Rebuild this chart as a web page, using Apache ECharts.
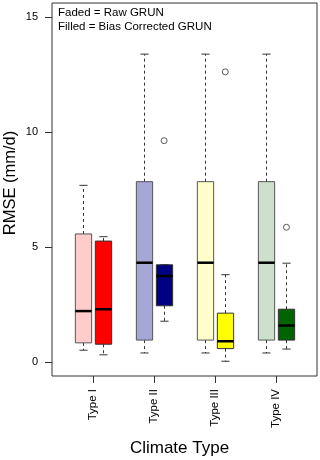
<!DOCTYPE html>
<html>
<head>
<meta charset="utf-8">
<script src="https://cdn.jsdelivr.net/npm/echarts@6/dist/echarts.min.js"></script>
<style>
  html, body { margin: 0; padding: 0; background: #fff; }
  #chart { width: 320px; height: 460px; }
</style>
</head>
<body>
<div id="chart"></div>
<script>
// climate types and their box positions on the x scale
const categories = ["Type I", "Type II", "Type III", "Type IV"];
const rawPos = [1, 4, 7, 10];
const corrPos = [2, 5, 8, 11];
const labelPos = [1.5, 4.5, 7.5, 10.5];

// [lower whisker, Q1, median, Q3, upper whisker]
const rawStats = [
  [0.52, 0.84, 2.22, 5.57, 7.68],
  [0.40, 0.96, 4.32, 7.84, 13.38],
  [0.40, 0.96, 4.32, 7.84, 13.38],
  [0.40, 0.96, 4.32, 7.84, 13.38],
];
const corrStats = [
  [0.32, 0.78, 2.30, 5.26, 5.45],
  [1.78, 2.45, 3.74, 4.23, 4.23],
  [0.04, 0.59, 0.91, 2.13, 3.80],
  [0.57, 0.96, 1.59, 2.30, 4.30],
];
// outliers of the bias corrected boxes: [category index, value]
const corrOutliers = [
  [1, 9.62],
  [2, 12.61],
  [3, 5.86],
];
const yTicks = [0, 5, 10, 15];

const rawColors = ["#ffcccc", "#a7a7d7", "#ffffcc", "#cce0cc"];
const corrColors = ["#ff0000", "#000080", "#ffff00", "#006400"];
const font = "Liberation Sans, Arial, sans-serif";

function boxItem(renderColors, borderColor) {
  return function (params, api) {
    const x = api.value(0);
    const lo = api.coord([x, api.value(1)]);
    const q1 = api.coord([x, api.value(2)]);
    const med = api.coord([x, api.value(3)]);
    const q3 = api.coord([x, api.value(4)]);
    const hi = api.coord([x, api.value(5)]);
    const half = api.size([0.8, 0])[0] / 2;
    const cap = half / 2;
    const cx = Math.round(lo[0]) + 0.5;
    const dash = { stroke: "#333", lineWidth: 1, lineDash: [3, 3] };
    const solid = { stroke: "#333", lineWidth: 1 };
    return {
      type: "group",
      children: [
        { type: "line", shape: { x1: cx, y1: q3[1], x2: cx, y2: hi[1] }, style: dash },
        { type: "line", shape: { x1: cx, y1: q1[1], x2: cx, y2: lo[1] }, style: dash },
        { type: "line", shape: { x1: cx - cap, y1: hi[1], x2: cx + cap, y2: hi[1] }, style: solid },
        { type: "line", shape: { x1: cx - cap, y1: lo[1], x2: cx + cap, y2: lo[1] }, style: solid },
        {
          type: "rect",
          shape: { x: cx - half, y: q3[1], width: half * 2, height: q1[1] - q3[1] },
          style: { fill: renderColors[params.dataIndex], stroke: borderColor, lineWidth: 1 },
        },
        {
          type: "line",
          shape: { x1: cx - half, y1: med[1], x2: cx + half, y2: med[1] },
          style: { stroke: "#000", lineWidth: 2.5 },
        },
      ],
    };
  };
}

const chart = echarts.init(document.getElementById("chart"));
chart.setOption({
  animation: false,
  textStyle: { fontFamily: font },
  grid: {
    left: 52, right: 3, top: 3, bottom: 84,
    containLabel: false,
    outerBoundsMode: "none",
    show: true, borderColor: "#333", borderWidth: 1,
  },
  xAxis: {
    type: "value",
    min: -0.5,
    max: 12.5,
    name: "Climate Type",
    nameLocation: "middle",
    nameGap: 64,
    nameTextStyle: { fontSize: 17, color: "#000", padding: [0, 10, 0, 0] },
    axisLine: { show: false, onZero: false },
    splitLine: { show: false },
    axisTick: { show: true, length: 7, customValues: labelPos, lineStyle: { color: "#333" } },
    axisLabel: {
      customValues: labelPos,
      rotate: 90,
      margin: 13,
      fontSize: 11.5,
      color: "#000",
      formatter: (v) => categories[labelPos.indexOf(v)],
    },
  },
  yAxis: {
    type: "value",
    min: -0.6,
    max: 15.6,
    axisLine: { show: false, onZero: false },
    splitLine: { show: false },
    axisTick: { show: true, length: 7, customValues: yTicks, lineStyle: { color: "#333" } },
    axisLabel: { customValues: yTicks, margin: 14, fontSize: 11, color: "#000" },
  },
  graphic: [
    {
      type: "text", left: 58, top: 6,
      style: {
        text: "Faded = Raw GRUN\nFilled = Bias Corrected GRUN",
        fontSize: 11.5, lineHeight: 14, fill: "#000", fontFamily: font,
      },
    },
    {
      // y axis title
      type: "text", x: 10.5, y: 183, rotation: Math.PI / 2,
      style: {
        text: "RMSE (mm/d)", fontSize: 16.5, fill: "#000", fontFamily: font,
        align: "center", verticalAlign: "middle",
      },
    },
  ],
  series: [
    {
      type: "custom",
      name: "Raw GRUN",
      renderItem: boxItem(rawColors, "#555"),
      encode: { x: 0, y: [1, 2, 3, 4, 5] },
      data: rawStats.map((s, i) => [rawPos[i], ...s]),
    },
    {
      type: "custom",
      name: "Bias Corrected GRUN",
      renderItem: boxItem(corrColors, "#333"),
      encode: { x: 0, y: [1, 2, 3, 4, 5] },
      data: corrStats.map((s, i) => [corrPos[i], ...s]),
    },
    {
      type: "scatter",
      name: "Outliers",
      symbol: "circle",
      symbolSize: 6,
      itemStyle: { color: "#fff", borderColor: "#333", borderWidth: 1 },
      data: corrOutliers.map((o) => [corrPos[o[0]], o[1]]),
    },
  ],
});
</script>
</body>
</html>
